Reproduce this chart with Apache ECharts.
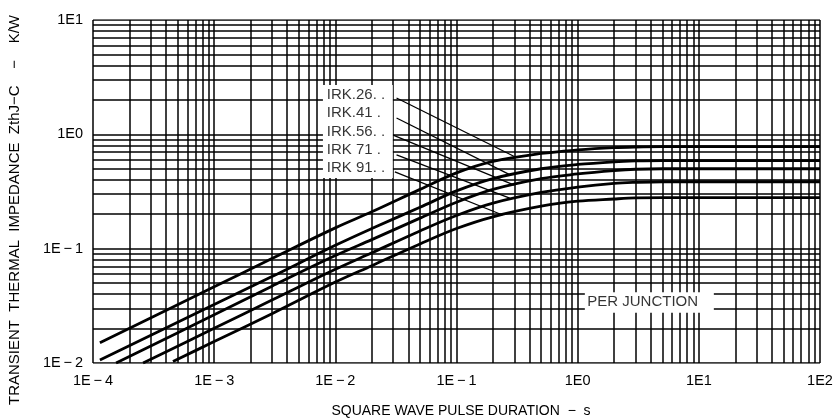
<!DOCTYPE html>
<html><head><meta charset="utf-8">
<script src="https://cdn.jsdelivr.net/npm/echarts@6/dist/echarts.min.js"></script>
<style>html,body{margin:0;padding:0;background:#fff}#c{width:838px;height:420px}</style>
</head><body><div id="c"></div>
<script>
// ---- tick labels ----
const xTickLabels = ['1E\u2009\u2212\u20094','1E\u2009\u2212\u20093','1E\u2009\u2212\u20092','1E\u2009\u2212\u20091','1E0','1E1','1E2'];
const yTickLabels = ['1E\u2009\u2212\u20092','1E\u2009\u2212\u20091','1E0','1E1'];
// ---- log grid ----
const gridMantissas = [1,2,3,4,5,6,7,8,9];
const xDecades = [1e-4,1e-3,1e-2,1e-1,1,10,100];
const yDecades = [1e-2,1e-1,1,10];
// ---- curves (t in s, Zth in K/W) ----
const seriesNames = ['IRK.26','IRK.41','IRK.56','IRK.71','IRK.91'];
const t26 = [1.14e-4,1e-3,3e-3,1e-2,2e-2,5e-2,1e-1,2e-1,5e-1,1,2,3,5,100];
const z26 = [0.015,0.0464,0.082,0.152,0.21,0.33,0.46,0.58,0.68,0.73,0.765,0.775,0.78,0.78];
const t41 = [1.14e-4,1e-3,3e-3,1e-2,2e-2,5e-2,1e-1,2e-1,5e-1,1,2,3,5,100];
const z41 = [0.0106,0.0325,0.057,0.107,0.15,0.23,0.32,0.41,0.50,0.545,0.575,0.585,0.59,0.59];
const t56 = [1.55e-4,1e-3,3e-3,1e-2,2e-2,5e-2,1e-1,2e-1,5e-1,1,2,3,5,100];
const z56 = [0.01,0.0264,0.047,0.087,0.12,0.185,0.255,0.33,0.41,0.45,0.482,0.495,0.50,0.50];
const t71 = [2.59e-4,1e-3,3e-3,1e-2,2e-2,5e-2,1e-1,2e-1,5e-1,1,2,3,5,100];
const z71 = [0.01,0.0201,0.0355,0.066,0.092,0.143,0.195,0.25,0.31,0.345,0.372,0.38,0.385,0.385];
const t91 = [4.57e-4,1e-3,3e-3,1e-2,2e-2,5e-2,1e-1,2e-1,5e-1,1,2,3,5,100];
const z91 = [0.0103,0.0154,0.027,0.051,0.071,0.11,0.15,0.19,0.235,0.26,0.272,0.278,0.28,0.28];
// ---- annotations (data coordinates) ----
const labelNames = ['IRK.26. .','IRK.41 .','IRK.56. .','IRK 71 .','IRK 91. .'];
const labelX = [0.0085,0.0085,0.0085,0.0085,0.0085];
const labelY = [2.2,1.53,1.05,0.73,0.507];
const leaderStartX = [0.032,0.032,0.030,0.032,0.031];
const leaderStartY = [2.08,1.39,0.985,0.66,0.47];
const leaderEndX = [0.30,0.28,0.30,0.275,0.24];
const leaderEndY = [0.64,0.44,0.36,0.277,0.197];
const labelBox = [0.0079,2.70,0.0298,0.415];
const noteText = 'PER JUNCTION';
const noteX = 1.2, noteY = 0.034;
const noteBox = [1.146,0.0415,13.3,0.0275];

const FONT = 'Liberation Sans';
const xGrid = [], yGrid = [];
xDecades.forEach(d => gridMantissas.forEach(m => { const v = d*m; if (v <= 100.0001) xGrid.push(v); }));
yDecades.forEach(d => gridMantissas.forEach(m => { const v = d*m; if (v <= 10.0001) yGrid.push(v); }));

const curves = [[t26,z26],[t41,z41],[t56,z56],[t71,z71],[t91,z91]];
const chart = echarts.init(document.getElementById('c'), null, {renderer:'canvas'});
const series = [];
series.push({
  type:'lines', name:'grid', coordinateSystem:'cartesian2d', z:1, silent:true, animation:false,
  lineStyle:{color:'#000', width:1.5, opacity:1, curveness:0},
  data: xGrid.map(v => ({coords:[[v,1e-2],[v,10]]})).concat(yGrid.map(v => ({coords:[[1e-4,v],[100,v]]})))
});
series.push({
  type:'custom', name:'boxes', z:2, silent:true, animation:false,
  encode:{x:[0,2], y:[1,3]},
  data:[labelBox, noteBox],
  renderItem:(params, api) => {
    const p1 = api.coord([api.value(0), api.value(1)]);
    const p2 = api.coord([api.value(2), api.value(3)]);
    return {type:'rect', shape:{x:p1[0], y:p1[1], width:p2[0]-p1[0], height:p2[1]-p1[1]}, style:{fill:'#fff'}};
  }
});
series.push({
  type:'lines', name:'leaders', coordinateSystem:'cartesian2d', z:3, silent:true, animation:false,
  lineStyle:{color:'#000', width:1.3, opacity:1, curveness:0},
  data: leaderStartX.map((x,i) => ({coords:[[x, leaderStartY[i]],[leaderEndX[i], leaderEndY[i]]]}))
});
curves.forEach((c,i) => series.push({
  type:'line', name:seriesNames[i], z:4, showSymbol:false, smooth:0.35, animation:false,
  data: c[0].map((t,j) => [t, c[1][j]]),
  lineStyle:{color:'#000', width:2.8}
}));
series.push({
  type:'scatter', name:'labels', z:5, symbolSize:0, silent:true, animation:false,
  data: labelNames.map((n,i) => ({value:[labelX[i], labelY[i]], name:n}))
    .concat([{value:[noteX,noteY], name:noteText}]),
  label:{show:true, position:'right', distance:0, formatter:p => p.name,
    fontFamily:FONT, fontSize:15, color:'#000'}
});

chart.setOption({
  animation:false,
  backgroundColor:'#fff',
  grid:{left:93, right:18, top:20, bottom:57, containLabel:false},
  xAxis:{type:'log', logBase:10, min:1e-4, max:100, splitNumber:6,
    axisLine:{show:false}, axisTick:{show:false}, splitLine:{show:false}, minorSplitLine:{show:false},
    axisLabel:{formatter:v => xTickLabels[Math.round(Math.log10(v))+4], fontFamily:FONT, fontSize:14.5, color:'#000', margin:10}},
  yAxis:{type:'log', logBase:10, min:1e-2, max:10, splitNumber:3,
    axisLine:{show:false}, axisTick:{show:false}, splitLine:{show:false},
    axisLabel:{formatter:v => yTickLabels[Math.round(Math.log10(v))+2], fontFamily:FONT, fontSize:14.5, color:'#000', margin:10}},
  graphic:[
    {type:'text', x:461, y:411, style:{text:'SQUARE WAVE PULSE DURATION  \u2212  s', fontFamily:FONT, fontSize:14, fill:'#000', textAlign:'center', textVerticalAlign:'middle'}},
    {type:'text', x:15, y:210, rotation:Math.PI/2, style:{text:'TRANSIENT  THERMAL  IMPEDANCE  ZthJ\u2212C    \u2212    K/W', fontFamily:FONT, fontSize:15, fill:'#000', textAlign:'center', textVerticalAlign:'middle'}}
  ],
  series: series
});
</script></body></html>
